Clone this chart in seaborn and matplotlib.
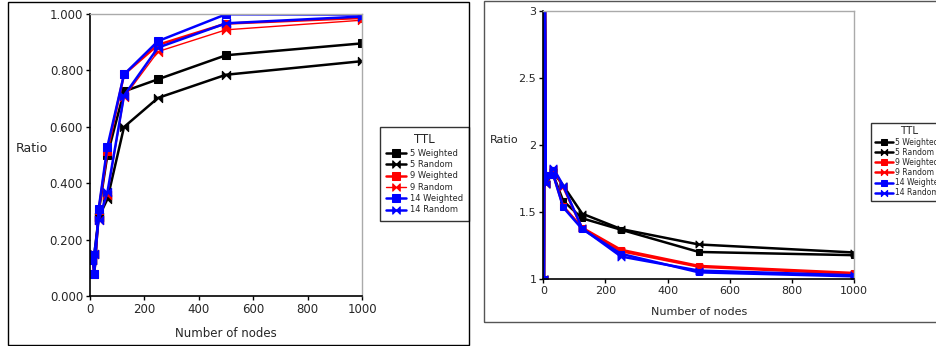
import numpy as np
import pandas as pd
import matplotlib
matplotlib.use('Agg')
import matplotlib.pyplot as plt
import matplotlib.patches as mpatches
from matplotlib.path import Path
from matplotlib.ticker import FormatStrFormatter, FuncFormatter
import seaborn as sns

#Data
series = ['5 Weighted', '5 Random', '9 Weighted', '9 Random', '14 Weighted', '14 Random']
colors = ['black', 'black', 'red', 'red', 'blue', 'blue']

nodes_left = [4, 8, 16, 32, 64, 125, 250, 500, 1000]
left_5w = [0.13, 0.145, 0.08, 0.30, 0.50, 0.725, 0.768, 0.853, 0.895]
left_5r = [0.14, 0.13, 0.15, 0.28, 0.344, 0.599, 0.702, 0.784, 0.832]
left_9w = [0.13, 0.145, 0.08, 0.305, 0.515, 0.785, 0.89, 0.965, 0.985]
left_9r = [0.14, 0.13, 0.15, 0.27, 0.36, 0.704, 0.866, 0.943, 0.977]
left_14w = [0.13, 0.145, 0.08, 0.31, 0.53, 0.785, 0.903, 0.998, 0.997]
left_14r = [0.14, 0.13, 0.15, 0.27, 0.368, 0.71, 0.88, 0.966, 0.99]

nodes_right = [2, 4, 8, 32, 64, 125, 250, 500, 1000]
right_5w = [1.0, 3.6, 1.78, 1.78, 1.585, 1.455, 1.37, 1.204, 1.18]
right_5r = [1.0, 3.6, 1.71, 1.80, 1.70, 1.49, 1.375, 1.26, 1.20]
right_9w = [1.0, 3.6, 1.78, 1.78, 1.545, 1.385, 1.22, 1.10, 1.047]
right_9r = [1.0, 3.6, 1.71, 1.82, 1.69, 1.38, 1.21, 1.094, 1.04]
right_14w = [1.0, 3.6, 1.78, 1.78, 1.537, 1.375, 1.19, 1.052, 1.022]
right_14r = [1.0, 3.6, 1.71, 1.83, 1.70, 1.38, 1.17, 1.065, 1.03]

left_vals = [left_5w, left_5r, left_9w, left_9r, left_14w, left_14r]
right_vals = [right_5w, right_5r, right_9w, right_9r, right_14w, right_14r]

#bowtie marker for the random series
bowtie = Path([(-1, -1), (1, 1), (1, -1), (-1, 1), (-1, -1)],
              [Path.MOVETO, Path.LINETO, Path.LINETO, Path.LINETO, Path.CLOSEPOLY])

sns.set_style('white')
plt.rcParams['font.family'] = ['DejaVu Sans']

fig = plt.figure(figsize=(9.37, 3.46), dpi=100)

#panel frames
fig.patches.append(mpatches.Rectangle((8/937, 1/346), 461/937, 343/346, transform=fig.transFigure,
                                      fill=False, edgecolor='black', lw=1))
fig.patches.append(mpatches.Rectangle((484/937, 24/346), 460/937, 321/346, transform=fig.transFigure,
                                      fill=False, edgecolor='#555555', lw=1))

ax1 = fig.add_axes([90/937, 49.7/346, 272/937, 282.6/346])
ax2 = fig.add_axes([543.3/937, 66.7/346, 311/937, 268/346])


def draw(ax, nodes, vals, fs, msize):
    for name, col, v in zip(series, colors, vals):
        df = pd.DataFrame({'nodes': nodes, 'ratio': v})
        rnd = 'Random' in name
        lw = 1.0 if name == '9 Random' and ax is ax1 else 1.8
        sns.lineplot(data=df, x='nodes', y='ratio', ax=ax, color=col, lw=lw,
                     marker=bowtie if rnd else 's', markersize=msize,
                     markeredgecolor=col, markerfacecolor=col, label=name)
    for s in ['top', 'right']:
        ax.spines[s].set_color('#aaaaaa')
        ax.spines[s].set_linewidth(1)
    for s in ['left', 'bottom']:
        ax.spines[s].set_color('black')
        ax.spines[s].set_linewidth(1.2)
    ax.tick_params(axis='both', which='both', direction='out', length=3, width=1,
                   color='black', labelsize=fs, left=True, bottom=True, pad=2)
    ax.set_xlabel('Number of nodes', fontsize=fs, labelpad=8)
    ax.set_xlim(0, 1000)
    ax.set_xticks([0, 200, 400, 600, 800, 1000])


draw(ax1, nodes_left, left_vals, 8.5, 6)
ax1.set_ylim(0, 1.0)
ax1.set_yticks([0, 0.2, 0.4, 0.6, 0.8, 1.0])
ax1.yaxis.set_major_formatter(FormatStrFormatter('%.3f'))
ax1.set_ylabel('Ratio', fontsize=9, rotation=0, labelpad=0)
ax1.yaxis.set_label_coords(-0.215, 0.5)
leg1 = ax1.legend(title='TTL', loc='center left', bbox_to_anchor=(1.065, 0.433),
                  fontsize=6, title_fontsize=8.5, frameon=True, fancybox=False,
                  handlelength=2.4, handletextpad=0.4, labelspacing=0.28, borderpad=0.8,
                  borderaxespad=0, markerscale=0.9)
leg1.get_frame().set_edgecolor('black')
leg1.get_frame().set_linewidth(1)

draw(ax2, nodes_right, right_vals, 8, 5)
ax2.set_ylim(1, 3)
ax2.set_yticks([1, 1.5, 2, 2.5, 3])
ax2.yaxis.set_major_formatter(FuncFormatter(lambda v, p: '%g' % v))
ax2.set_ylabel('Ratio', fontsize=8, rotation=0, labelpad=0)
ax2.yaxis.set_label_coords(-0.126, 0.5)
leg2 = ax2.legend(title='TTL', loc='center left', bbox_to_anchor=(1.053, 0.438),
                  fontsize=5.5, title_fontsize=7.5, frameon=True, fancybox=False,
                  handlelength=2.4, handletextpad=0.3, labelspacing=0.15, borderpad=0.5,
                  borderaxespad=0, markerscale=0.9)
leg2.get_frame().set_edgecolor('black')
leg2.get_frame().set_linewidth(1)

fig.savefig('out.png', dpi=100)
